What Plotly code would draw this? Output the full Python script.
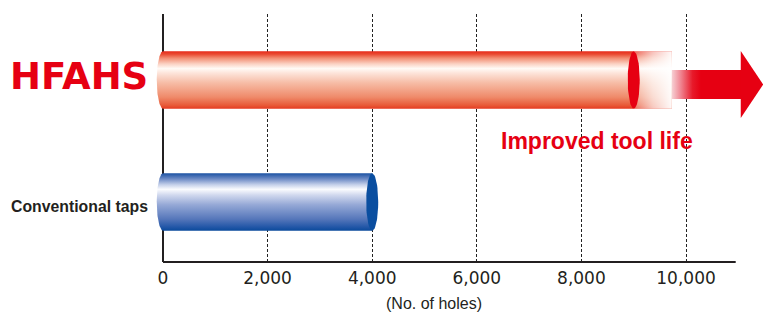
import numpy as np
import plotly.graph_objects as go

# ---------------- data ----------------
categories = ["Conventional taps", "HFAHS"]
holes = [4000, 9000]
tick_values = [0, 2000, 4000, 6000, 8000, 10000]
tick_labels = ["0", "2,000", "4,000", "6,000", "8,000", "10,000"]
axis_title = "(No. of holes)"
improvement_label = "Improved tool life"

# ---------------- style ----------------
W, H = 763, 313
X_RANGE = [-248.6, 11472]
Y_RANGE = [-0.492, 1.541]
AXIS_END = 10950
HALF_H = 0.235
CAP_RX = 120
RED = "#e60012"
BLUE_CAP = "#0a4ea0"
TXT = "#231f20"

red_scale = [
    [0.0, "#e53a20"], [0.06, "#e85a38"], [0.2, "#ef8a6a"], [0.45, "#f6bca6"],
    [0.62, "#fde4da"], [0.70, "#fffaf6"], [0.78, "#fbd2c4"], [0.88, "#f28e74"],
    [0.95, "#ea4a32"], [1.0, "#e62a1a"],
]
blue_scale = [
    [0.0, "#0b4a9c"], [0.07, "#2558a8"], [0.2, "#5576ba"], [0.45, "#95a8d6"],
    [0.62, "#d0d8ee"], [0.72, "#fafbfe"], [0.8, "#c6d1ea"], [0.9, "#6f8cc6"],
    [1.0, "#1c52a3"],
]
bar_scales = [blue_scale, red_scale]
cap_colors = [BLUE_CAP, RED]


def ellipse(cx, cy, rx, ry, t0=0.0, t1=2 * np.pi, n=72):
    t = np.linspace(t0, t1, n)
    return list(cx + rx * np.cos(t)), list(cy + ry * np.sin(t))


def body(value, cy, hh):
    xs, ys = ellipse(0, cy, CAP_RX, hh, np.pi / 2, 3 * np.pi / 2)
    xs += [value, value, xs[0]]
    ys += [cy - hh, cy + hh, ys[0]]
    return xs, ys


fig = go.Figure()

for i, (cat, val) in enumerate(zip(categories, holes)):
    xs, ys = body(val, i, HALF_H)
    fig.add_trace(go.Scatter(
        x=xs, y=ys, mode="lines", fill="toself", line=dict(width=0),
        fillgradient=dict(type="vertical", colorscale=bar_scales[i]),
        hoverinfo="skip", showlegend=False, name=cat))
    if cat == "HFAHS":
        # fading extension beyond the bar
        fade_end = val * 1.081
        fx = [val, fade_end, fade_end, val, val]
        fy = [i - HALF_H, i - HALF_H, i + HALF_H, i + HALF_H, i - HALF_H]
        fig.add_trace(go.Scatter(
            x=fx, y=fy, mode="lines", fill="toself", line=dict(width=0),
            fillgradient=dict(type="vertical", colorscale=red_scale),
            hoverinfo="skip", showlegend=False))
        fig.add_trace(go.Scatter(
            x=fx, y=fy, mode="lines", fill="toself", line=dict(width=0),
            fillgradient=dict(type="horizontal", colorscale=[
                [0, "rgba(255,255,255,0.25)"], [0.5, "rgba(255,255,255,0.7)"],
                [1, "rgba(255,255,255,0.97)"]]),
            hoverinfo="skip", showlegend=False))
        # arrow
        acy = i - 0.037
        shaft_hh, head_hh = 0.119, 0.275
        head_start = val * 1.228
        tip = val * 1.275
        sx = [fade_end, head_start, head_start, fade_end, fade_end]
        sy = [acy - shaft_hh, acy - shaft_hh, acy + shaft_hh, acy + shaft_hh, acy - shaft_hh]
        fig.add_trace(go.Scatter(
            x=sx, y=sy, mode="lines", fill="toself", line=dict(width=0),
            fillgradient=dict(type="horizontal", colorscale=[
                [0, "#f7d0d4"], [0.12, "#f08a96"], [0.3, "#e71a2a"], [0.42, RED], [1, RED]]),
            hoverinfo="skip", showlegend=False))
        fig.add_trace(go.Scatter(
            x=[head_start - 5, tip, head_start - 5, head_start - 5],
            y=[acy + head_hh, acy, acy - head_hh, acy + head_hh],
            mode="lines", fill="toself", line=dict(width=0), fillcolor=RED,
            hoverinfo="skip", showlegend=False))
    ex, ey = ellipse(val, i, 115, HALF_H)
    fig.add_trace(go.Scatter(
        x=ex, y=ey, mode="lines", fill="toself", line=dict(width=0),
        fillcolor=cap_colors[i], hoverinfo="skip", showlegend=False))

# axis lines
fig.add_shape(type="line", xref="x", yref="paper", x0=0, x1=AXIS_END, y0=0, y1=0,
              line=dict(color=TXT, width=2), layer="above")
fig.add_shape(type="line", xref="x", yref="paper", x0=0, x1=0, y0=0, y1=1,
              line=dict(color=TXT, width=2), layer="below")

# category labels
fig.add_annotation(x=0, y=1, xref="x", yref="y", xshift=-13, yshift=4,
                   xanchor="right", yanchor="middle", showarrow=False,
                   text=categories[1],
                   font=dict(family="DejaVu Sans", size=37, color=RED, weight="bold"))
fig.add_annotation(x=0, y=0, xref="x", yref="y", xshift=-13, yshift=-5,
                   xanchor="right", yanchor="middle", showarrow=False,
                   text=categories[0],
                   font=dict(family="Liberation Sans", size=15.8, color=TXT, weight="bold"))
fig.add_annotation(x=8300, y=0.5, xref="x", yref="y", showarrow=False,
                   xanchor="center", yanchor="middle", text=improvement_label,
                   font=dict(family="Liberation Sans", size=23, color=RED, weight="bold"))
fig.add_annotation(x=5182, y=-0.168, xref="x", yref="paper", showarrow=False,
                   xanchor="center", yanchor="middle", text=axis_title,
                   font=dict(family="Liberation Sans", size=16, color=TXT))

fig.update_layout(
    width=W, height=H,
    margin=dict(l=150, r=0, t=14, b=51),
    paper_bgcolor="white", plot_bgcolor="white",
    xaxis=dict(range=X_RANGE, tickvals=tick_values, ticktext=tick_labels,
               showgrid=True, gridcolor="#222222", gridwidth=1, griddash="3px,2px",
               zeroline=False, showline=False, ticks="outside", ticklen=1,
               tickcolor="rgba(0,0,0,0)",
               tickfont=dict(family="DejaVu Sans", size=17, color=TXT), fixedrange=True),
    yaxis=dict(range=Y_RANGE, showgrid=False, zeroline=False, showline=False,
               showticklabels=False, fixedrange=True),
)

fig.write_html(
    "out.html",
    config={"displayModeBar": False},
    post_script="document.body.style.margin='0';document.body.style.overflow='hidden';",
)
